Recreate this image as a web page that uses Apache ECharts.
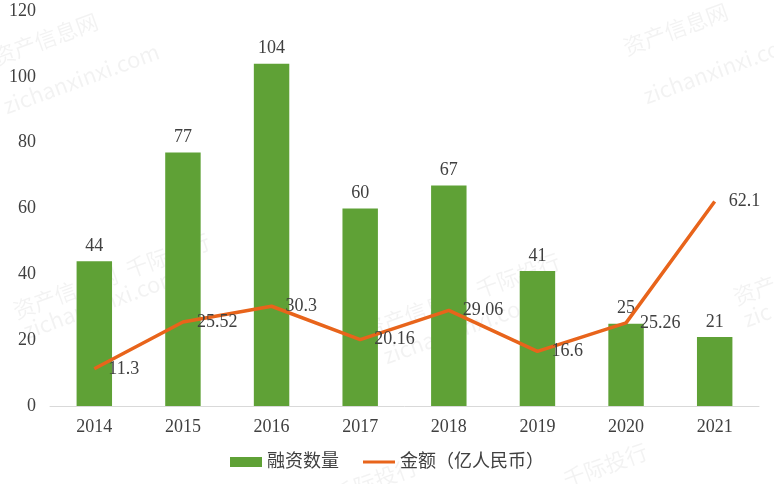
<!DOCTYPE html>
<html><head><meta charset="utf-8">
<script src="https://cdn.jsdelivr.net/npm/echarts@6/dist/echarts.min.js"></script>
<style>html,body{margin:0;padding:0;background:#fff}#c{width:774px;height:484px}</style>
</head><body><div id="c"></div>
<script>
var categories = ['2014','2015','2016','2017','2018','2019','2020','2021'];
var countValues = [44, 77, 104, 60, 67, 41, 25, 21];
var amountValues = [11.3, 25.52, 30.3, 20.16, 29.06, 16.6, 25.26, 62.1];
var seriesNames = ['融资数量', '金额（亿人民币）'];

var font = '"Liberation Serif", "Noto Sans CJK SC", serif';
var chart = echarts.init(document.getElementById('c'));
function wm(x, y, t, s) {
  return {type:'text', left:x, top:y, rotation: 0.35, silent:true, z:-1,
    style:{text:t, fill:'rgba(0,0,0,0.05)', font: (s||20)+'px "Noto Sans CJK SC", sans-serif'}};
}
chart.setOption({
  animation:false,
  grid:{left:50, right:15, top:11, bottom:78},
  graphic:[
    wm(-10,10,'资产信息网',22), wm(0,40,'zichanxinxi.com',22),
    wm(620,0,'资产信息网',22), wm(640,30,'zichanxinxi.com',22),
    wm(10,230,'资产信息网  千际投行',22), wm(20,265,'zichanxinxi.com',22),
    wm(360,250,'资产信息网  千际投行',22), wm(380,290,'zichanxinxi.com',22),
    wm(730,265,'资产信',22), wm(740,300,'zic',22),
    wm(330,455,'千际投行',22), wm(560,440,'千际投行',22)
  ],
  legend:{bottom:8, left:'center', itemGap:24, itemWidth:32, itemHeight:10,
    textStyle:{fontFamily:font, fontSize:18, color:'#404040'},
    data:[{name:seriesNames[0], icon:'rect'},
          {name:seriesNames[1], icon:'path://M0,0 L32,0 L32,3 L0,3 Z', itemStyle:{color:'#e8641b'}}]},
  xAxis:{type:'category', data:categories,
    axisLine:{lineStyle:{color:'#d9d9d9', width:1}}, axisTick:{show:false},
    axisLabel:{fontFamily:font, fontSize:18, color:'#404040', margin:12}},
  yAxis:{type:'value', min:0, max:120, interval:20, splitLine:{show:false},
    axisLine:{show:false}, axisTick:{show:false},
    axisLabel:{fontFamily:font, fontSize:18, color:'#404040', margin:14}},
  series:[
    {name:seriesNames[0], type:'bar', data:countValues, barWidth:'40%',
      itemStyle:{color:'#5fa136'},
      label:{show:true, position:'top', distance:6, fontFamily:font, fontSize:18, color:'#404040'}},
    {name:seriesNames[1], type:'line', data:amountValues, symbol:'circle', symbolSize:0.1, showSymbol:true,
      lineStyle:{color:'#e8641b', width:3.5}, itemStyle:{color:'#e8641b'},
      label:{show:true, position:'right', distance:14, fontFamily:font, fontSize:18, color:'#404040'}}
  ]
});
</script></body></html>
